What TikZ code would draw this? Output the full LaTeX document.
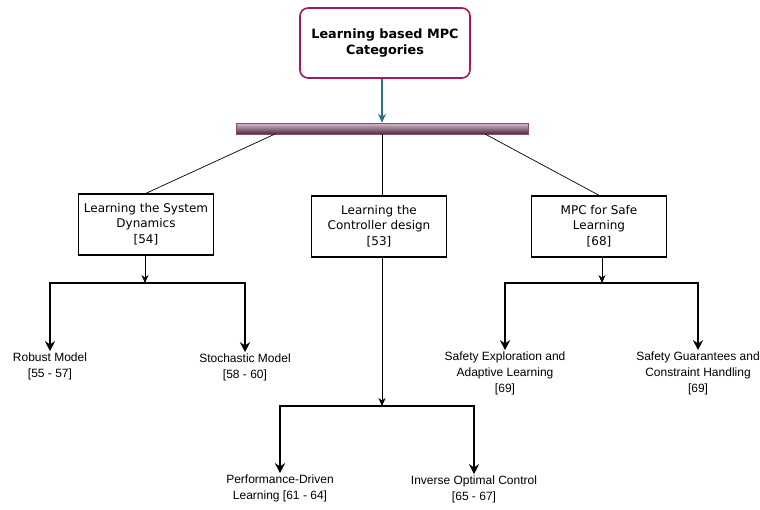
\documentclass[tikz,border=0pt]{standalone}
\usepackage{fontspec}
\setmainfont{DejaVu Sans}
\newfontfamily\leaffont{Liberation Sans}
\usetikzlibrary{arrows.meta, positioning}

\definecolor{titlered}{HTML}{A3195B}
\definecolor{tealarr}{HTML}{2F6F84}
\definecolor{barlight}{HTML}{DCBCD0}
\definecolor{bardark}{HTML}{4A2C3C}
\definecolor{barline}{HTML}{8E4A6E}

\begin{document}
\begin{tikzpicture}[
  x=1pt, y=-1pt,
  title/.style={rectangle, rounded corners=8pt, draw=titlered, line width=1.6pt, fill=white,
    minimum width=170pt, minimum height=70pt, align=center, font=\fontsize{12.8}{16}\selectfont\bfseries},
  bar/.style={rectangle, draw=barline, line width=0.5pt, top color=barlight, bottom color=bardark,
    minimum width=292pt, minimum height=11pt, inner sep=0pt},
  catbox/.style={rectangle, draw=black, line width=1.4pt, fill=white,
    minimum width=135pt, minimum height=61pt, align=center, font=\fontsize{12}{14.5}\selectfont},
  leaf/.style={align=center, inner sep=1pt, font=\leaffont\fontsize{12}{16}\selectfont},
  arr/.style={-{Stealth[length=8pt, width=7pt]}, line width=0.7pt},
  tealline/.style={-{Stealth[length=9pt, width=8pt]}, line width=1.1pt, tealarr},
  link/.style={line width=0.7pt},
  bracket/.style={-{Stealth[length=10pt, width=10pt]}, line width=1.9pt}
]
\useasboundingbox (0,0) rectangle (760,509);

% ===== TOPO =====
\node[title] (root) at (385,43) {Learning based MPC\\Categories};
\node[bar] (bar) at (382,128.5) {};
\draw[tealline] (root.south -| bar.north) -- (bar.north);

% ===== CATEGORIAS =====
\node[catbox] (dyn) at (146,224.5) {Learning the System\\Dynamics\\[2pt]{}[54]};
\node[catbox] (ctrl) at (379,226.5) {Learning the\\Controller design\\[2pt]{}[53]};
\node[catbox] (safe) at (599,226.5) {MPC for Safe\\Learning\\[2pt]{}[68]};
\coordinate (barl) at (275,134);
\coordinate (barr) at (485,134);
\draw[link] (barl) -- (dyn.north);
\draw[link] (bar.south) -- (bar.south |- ctrl.north);
\draw[link] (barr) -- (safe.north);

% ===== FOLHAS =====
\node[leaf] (robust) at (50,366) {Robust Model\\{}[55 - 57]};
\node[leaf] (stoch) at (245,367) {Stochastic Model\\{}[58 - 60]};
\node[leaf] (perf) at (280,488) {Performance-Driven\\Learning [61 - 64]};
\node[leaf] (inv) at (474,489) {Inverse Optimal Control\\{}[65 - 67]};
\node[leaf] (explo) at (505,373) {Safety Exploration and\\Adaptive Learning\\{}[69]};
\node[leaf] (guar) at (698,373) {Safety Guarantees and\\Constraint Handling\\{}[69]};

% pontos dos colchetes
\coordinate (dynb) at (145,283);
\coordinate (ctrlb) at (382,406);
\coordinate (safeb) at (602,283);
\draw[arr] (dyn.south -| dynb) -- (dynb);
\draw[arr] (ctrl.south -| ctrlb) -- (ctrlb);
\draw[arr] (safe.south -| safeb) -- (safeb);

\draw[bracket] (dynb) -| (robust.north);
\draw[bracket] (dynb) -| (stoch.north);
\draw[bracket] (ctrlb) -| (perf.north);
\draw[bracket] (ctrlb) -| (inv.north);
\draw[bracket] (safeb) -| (explo.north);
\draw[bracket] (safeb) -| (guar.north);
\end{tikzpicture}
\end{document}
